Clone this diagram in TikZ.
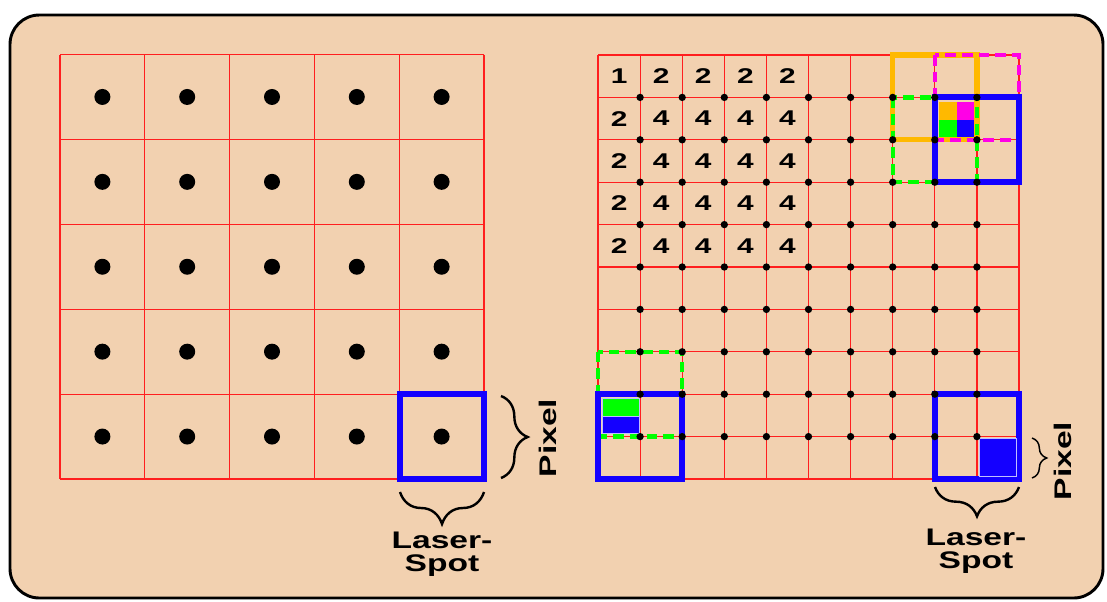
\documentclass[tikz,border=0pt]{standalone}
\usepackage{fontspec}
\newfontfamily\figfont{Liberation Sans}[FakeStretch=1.4]
\usetikzlibrary{decorations.pathreplacing}
\definecolor{peach}{RGB}{242,209,176}
\definecolor{gridred}{RGB}{255,30,30}
\definecolor{spotblue}{RGB}{20,0,255}
\definecolor{amber}{RGB}{255,185,0}
\definecolor{pink}{RGB}{255,0,230}
\definecolor{lime}{RGB}{0,255,0}

\begin{document}
\begin{tikzpicture}[
    x=0.75pt, y=-0.75pt,
    gridline/.style={draw=gridred, line width=0.9pt},
    spot/.style={draw=spotblue, line width=4.5pt},
    bigdot/.style={circle, fill=black, inner sep=0pt, minimum size=12pt},
    smalldot/.style={circle, fill=black, inner sep=0pt, minimum size=5.5pt},
    cellnum/.style={font=\figfont\bfseries\fontsize{16}{16}\selectfont, inner sep=0pt},
    caption/.style={font=\figfont\bfseries\fontsize{18}{17}\selectfont, align=center, inner sep=0pt},
    brace/.style={decorate, decoration={brace, amplitude=#1}, line width=1.8pt},
    dashbox/.style={draw=#1, line width=3.2pt, dash pattern=on 8pt off 4.5pt},
    subpix/.style={fill=#1, draw=blue!25, line width=0.5pt}
]
\useasboundingbox (0,0) rectangle (1107,601);

% Background panel
\draw[line width=2.2pt, fill=peach, rounded corners=22pt] (10,15) rectangle (1103,598);

% ------------------ Left grid: one dot per pixel ------------------
\foreach \i in {0,...,5} {
    \draw[gridline] (60+84.8*\i,54.5) -- (60+84.8*\i,479);
    \draw[gridline] (60,54.5+84.9*\i) -- (484,54.5+84.9*\i);
}
\foreach \c in {1,...,5}
    \foreach \r in {1,...,5}
        \node[bigdot] (dot\c-\r) at (60+84.8*\c-42.4,54.5+84.9*\r-42.45) {};

\draw[spot] (399.6,394.1) rectangle (484,479);

\coordinate (lpixA) at (501,396);
\coordinate (lpixB) at (501,478);
\draw[brace=20pt] (lpixA) -- (lpixB);
\node[caption, rotate=90] (lpixel) at (548,438) {Pixel};

\coordinate (lspotA) at (484,492);
\coordinate (lspotB) at (400,492);
\draw[brace=24pt] (lspotA) -- (lspotB);
\node[caption, anchor=base] (lspot) at (442,571) {Laser-\\Spot};

% ------------------ Right grid: dots on pixel corners ------------------
\foreach \i in {0,...,10} {
    \draw[gridline] (598+42.1*\i,55) -- (598+42.1*\i,479);
    \draw[gridline] (598,55+42.4*\i) -- (1019,55+42.4*\i);
}

% hit counts
\foreach \v [count=\c] in {1,2,2,2,2}
    \node[cellnum] (num\c-1) at (598+42.1*\c-21.05,76.2) {\v};
\foreach \r in {2,...,5}
    \foreach \v [count=\c] in {2,4,4,4,4}
        \node[cellnum] (num\c-\r) at (598+42.1*\c-21.05,55+42.4*\r-21.2) {\v};

% top right: four overlapping spots
\draw[amber, line width=4pt] (892.7,55) rectangle (976.9,139.8);
\draw[dashbox=pink] (934.8,55) rectangle (1019,139.8);
\draw[dashbox=lime] (892.7,97.4) rectangle (976.9,182.2);
\draw[spot] (934.8,97.4) rectangle (1019,182.2);
\fill[amber] (939,102) rectangle (956.5,119.5);
\fill[pink] (956.5,102) rectangle (974,119.5);
\fill[lime] (939,119.5) rectangle (956.5,137);
\fill[spotblue] (956.5,119.5) rectangle (974,137);

% bottom left: two spots
\draw[dashbox=lime] (598,351.8) rectangle (682.2,436.6);
\draw[spot] (598,394.2) rectangle (682.2,479);
\draw[subpix=lime] (602,398) rectangle (639,416);
\draw[subpix=spotblue] (602,416) rectangle (639,433);

% bottom right: one spot
\draw[spot] (934.8,394.2) rectangle (1019,479);
\draw[subpix=spotblue] (979,438) rectangle (1016,476);

% sample points on the corners, on top of the spots
\foreach \c in {1,...,9}
    \foreach \r in {1,...,9}
        \node[smalldot] (pt\c-\r) at (598+42.1*\c,55+42.4*\r) {};

\coordinate (rpixA) at (1032,438);
\coordinate (rpixB) at (1032,478);
\draw[decorate, decoration={brace, amplitude=11pt}, line width=1.1pt] (rpixA) -- (rpixB);
\node[caption, rotate=90] (rpixel) at (1063,461) {Pixel};

\coordinate (rspotA) at (1019,487);
\coordinate (rspotB) at (935,487);
\draw[brace=22pt] (rspotA) -- (rspotB);
\node[caption, anchor=base] (rspot) at (976,568) {Laser-\\Spot};

\end{tikzpicture}
\end{document}
